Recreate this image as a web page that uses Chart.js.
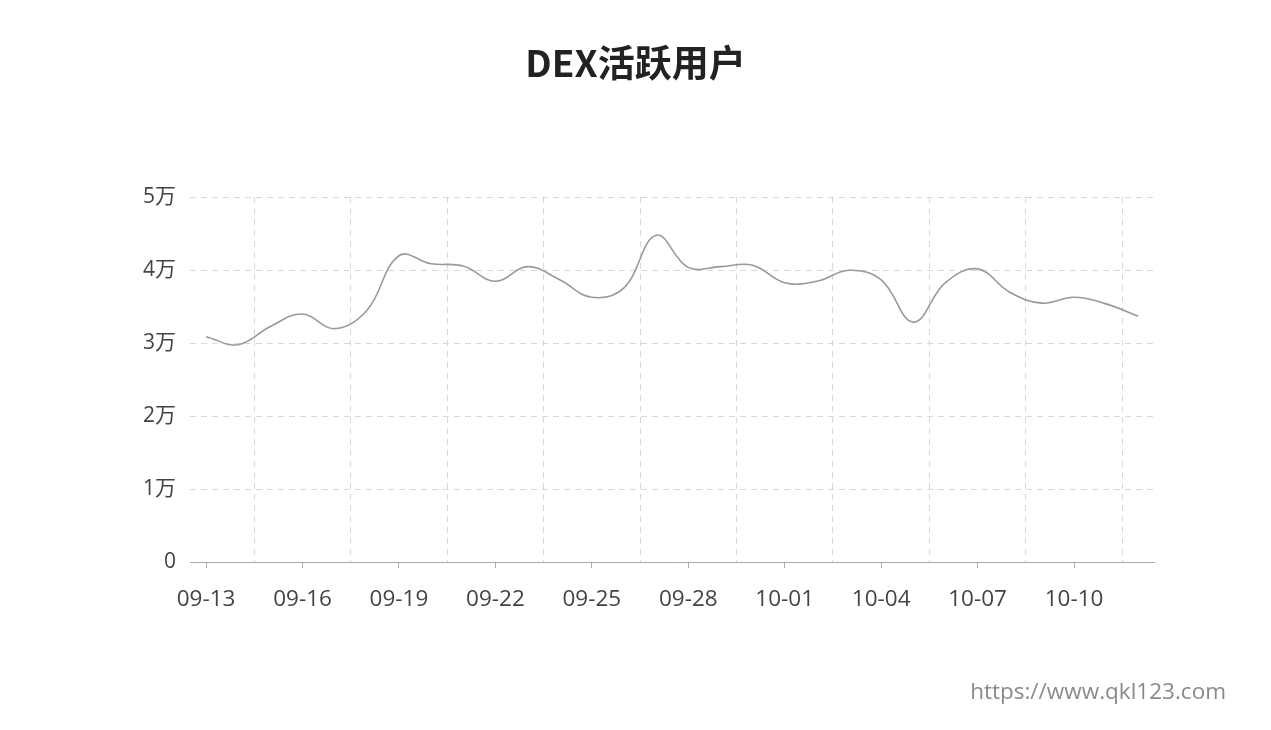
<!DOCTYPE html>
<html>
<head>
<meta charset="utf-8">
<script src="https://cdn.jsdelivr.net/npm/chart.js@4.4.1/dist/chart.umd.min.js"></script>
<style>
  html, body { margin: 0; padding: 0; background: #fff; }
  #wrap { position: relative; width: 1271px; height: 730px; }
  #wm { position: absolute; right: 45px; top: 675px; font: 22.5px "Open Sans", "Noto Sans", sans-serif; color: #8a8a8a; }
</style>
</head>
<body>
<div id="wrap">
  <canvas id="c" width="1271" height="730"></canvas>
  <div id="wm">https://www.qkl123.com</div>
</div>
<script>
const titleText = 'DEX活跃用户';
const categories = ['09-13','09-14','09-15','09-16','09-17','09-18','09-19','09-20','09-21','09-22',
  '09-23','09-24','09-25','09-26','09-27','09-28','09-29','09-30','10-01','10-02',
  '10-03','10-04','10-05','10-06','10-07','10-08','10-09','10-10','10-11','10-12'];
const activeUsers = [30900, 29800, 32300, 34000, 32000, 34500, 42000, 40900, 40600, 38500,
  40500, 38700, 36300, 37600, 44800, 40400, 40500, 40700, 38300, 38500,
  40000, 38700, 32900, 38300, 40200, 37000, 35500, 36300, 35400, 33700];
const yTickLabels = ['0', '1万', '2万', '3万', '4万', '5万'];
const labelEvery = 3;

const FONT = '"Open Sans", "Noto Sans CJK SC", sans-serif';
const TITLE_FONT = '"Noto Sans CJK SC", "Open Sans", sans-serif';
const GRID = '#d8d8d8';
const DASH = [6, 5];

new Chart(document.getElementById('c'), {
  type: 'line',
  data: {
    labels: categories,
    datasets: [{
      data: activeUsers,
      borderColor: '#999',
      borderWidth: 1.6,
      pointRadius: 0,
      pointHoverRadius: 0,
      tension: 0.4,
      fill: false
    }]
  },
  options: {
    responsive: false,
    animation: false,
    layout: { padding: { top: 0, left: 116.6, right: 116.6, bottom: 108 } },
    plugins: {
      legend: { display: false },
      tooltip: { enabled: false },
      title: {
        display: true,
        text: titleText,
        color: '#222',
        font: { family: TITLE_FONT, size: 37, weight: 'bold', lineHeight: 1.2 },
        padding: { top: 41, bottom: 112 }
      }
    },
    scales: {
      x: {
        type: 'category',
        offset: true,
        grid: {
          drawOnChartArea: false,
          drawTicks: true,
          tickLength: 6,
          offset: false,
          color: (ctx) => (ctx.index % labelEvery === 0 ? '#aaa' : 'rgba(0,0,0,0)')
        },
        border: { display: true, color: '#aaa', width: 1 },
        ticks: {
          autoSkip: false,
          maxRotation: 0,
          padding: 18,
          color: '#444',
          font: { family: FONT, size: 22.5 },
          callback: function (v, i) { return i % labelEvery === 0 ? categories[i] : ''; }
        },
        afterFit: (s) => { s.height = 60; }
      },
      xg: {
        type: 'linear',
        position: 'top',
        min: -0.5,
        max: categories.length - 0.5,
        afterBuildTicks: (s) => {
          const t = [];
          for (let i = 2; i < categories.length; i += labelEvery) t.push({ value: i - 0.5 });
          s.ticks = t;
        },
        grid: { drawTicks: false, color: GRID, lineWidth: 1 },
        border: { display: false, dash: DASH },
        ticks: { display: false },
        afterFit: (s) => { s.height = 0; }
      },
      y: {
        min: 0,
        max: 50000,
        grid: { drawTicks: false, color: GRID, lineWidth: 1 },
        border: { display: false, dash: DASH },
        ticks: {
          stepSize: 10000,
          padding: 14,
          color: '#444',
          font: { family: FONT, size: 21 },
          callback: (v) => yTickLabels[Math.round(v / 10000)]
        },
        afterFit: (s) => { s.width = 190 - 116.6; }
      }
    }
  }
});
</script>
</body>
</html>
